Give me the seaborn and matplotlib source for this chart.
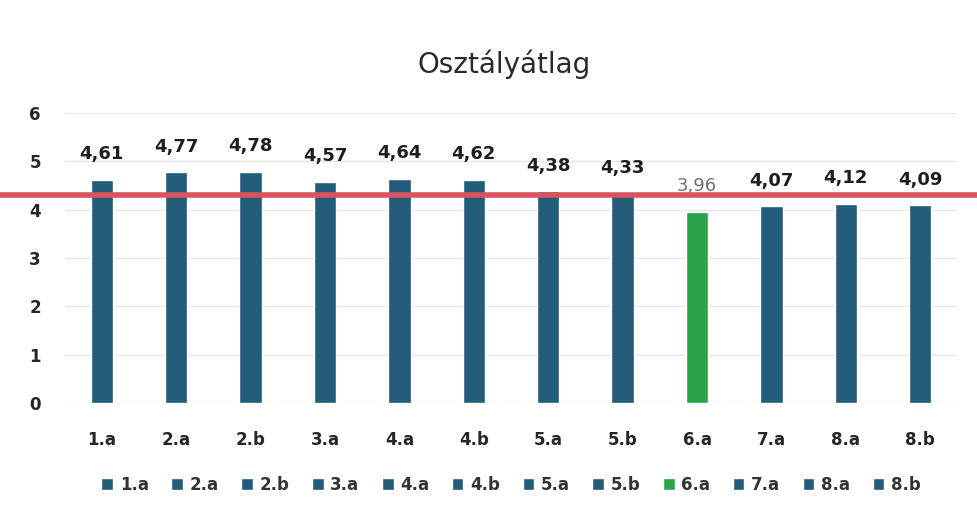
import matplotlib
matplotlib.use("Agg")
import matplotlib.pyplot as plt
import seaborn as sns
import pandas as pd

# ---- adatok ----
osztalyok = ["1.a", "2.a", "2.b", "3.a", "4.a", "4.b", "5.a", "5.b", "6.a", "7.a", "8.a", "8.b"]
atlagok = [4.61, 4.77, 4.78, 4.57, 4.64, 4.62, 4.38, 4.33, 3.96, 4.07, 4.12, 4.09]
iskolai_atlag = 4.30  # piros vonal

KEK = "#235c79"
ZOLD = "#2ba34a"
szinek = {o: (ZOLD if o == "6.a" else KEK) for o in osztalyok}

df = pd.DataFrame({"osztaly": osztalyok, "atlag": atlagok})

sns.set_style("white")
plt.rcParams['font.family'] = ['DejaVu Sans']

fig = plt.figure(figsize=(9.78, 5.17), dpi=100)
ax = fig.add_axes([0.066, 0.2205, 0.913, 0.561])

sns.barplot(data=df, x="osztaly", y="atlag", hue="osztaly", palette=szinek,
            width=0.3, dodge=False, legend=True, ax=ax, saturation=1)

ax.set_ylim(0, 6)
ax.set_xlim(-0.5, len(osztalyok) - 0.5)
ax.set_yticks(range(0, 7))
ax.yaxis.grid(True, color="#e6e6e6", linewidth=1)
ax.set_axisbelow(True)
sns.despine(ax=ax, left=True, bottom=True)
ax.set_xlabel("")
ax.set_ylabel("")
ax.tick_params(axis="both", length=0, labelsize=12, colors="#262626")
ax.tick_params(axis="y", pad=17)
ax.tick_params(axis="x", pad=20)
for t in ax.get_xticklabels() + ax.get_yticklabels():
    t.set_fontweight("semibold")

# értékcímkék
for i, (o, v) in enumerate(zip(osztalyok, atlagok)):
    szin = "#707070" if o == "6.a" else "#1e1e1e"
    ax.annotate(f"{v:.2f}".replace(".", ","), (i, v), xytext=(0, 12),
                textcoords="offset points", ha="center", va="bottom",
                fontsize=13, color=szin, fontweight="semibold" if o != "6.a" else "normal")

# piros vonal (az egész képen át)
ax.axhline(iskolai_atlag, xmin=-0.08, xmax=1.03, color="#d9545e", linewidth=4,
           clip_on=False, zorder=5)

fig.suptitle("Osztályátlag", x=0.515, y=0.905, fontsize=20, color="#2a2a2a")

h, l = ax.get_legend_handles_labels()
leg = ax.legend(h, l, loc="upper center", bbox_to_anchor=(0.5, -0.2), ncol=12,
                frameon=False, handlelength=0.7, handleheight=0.7, handletextpad=0.4,
                columnspacing=1.35, prop={"size": 12, "weight": "semibold"},
                labelcolor="#333333")

fig.savefig("out.png", dpi=100, facecolor="white")
